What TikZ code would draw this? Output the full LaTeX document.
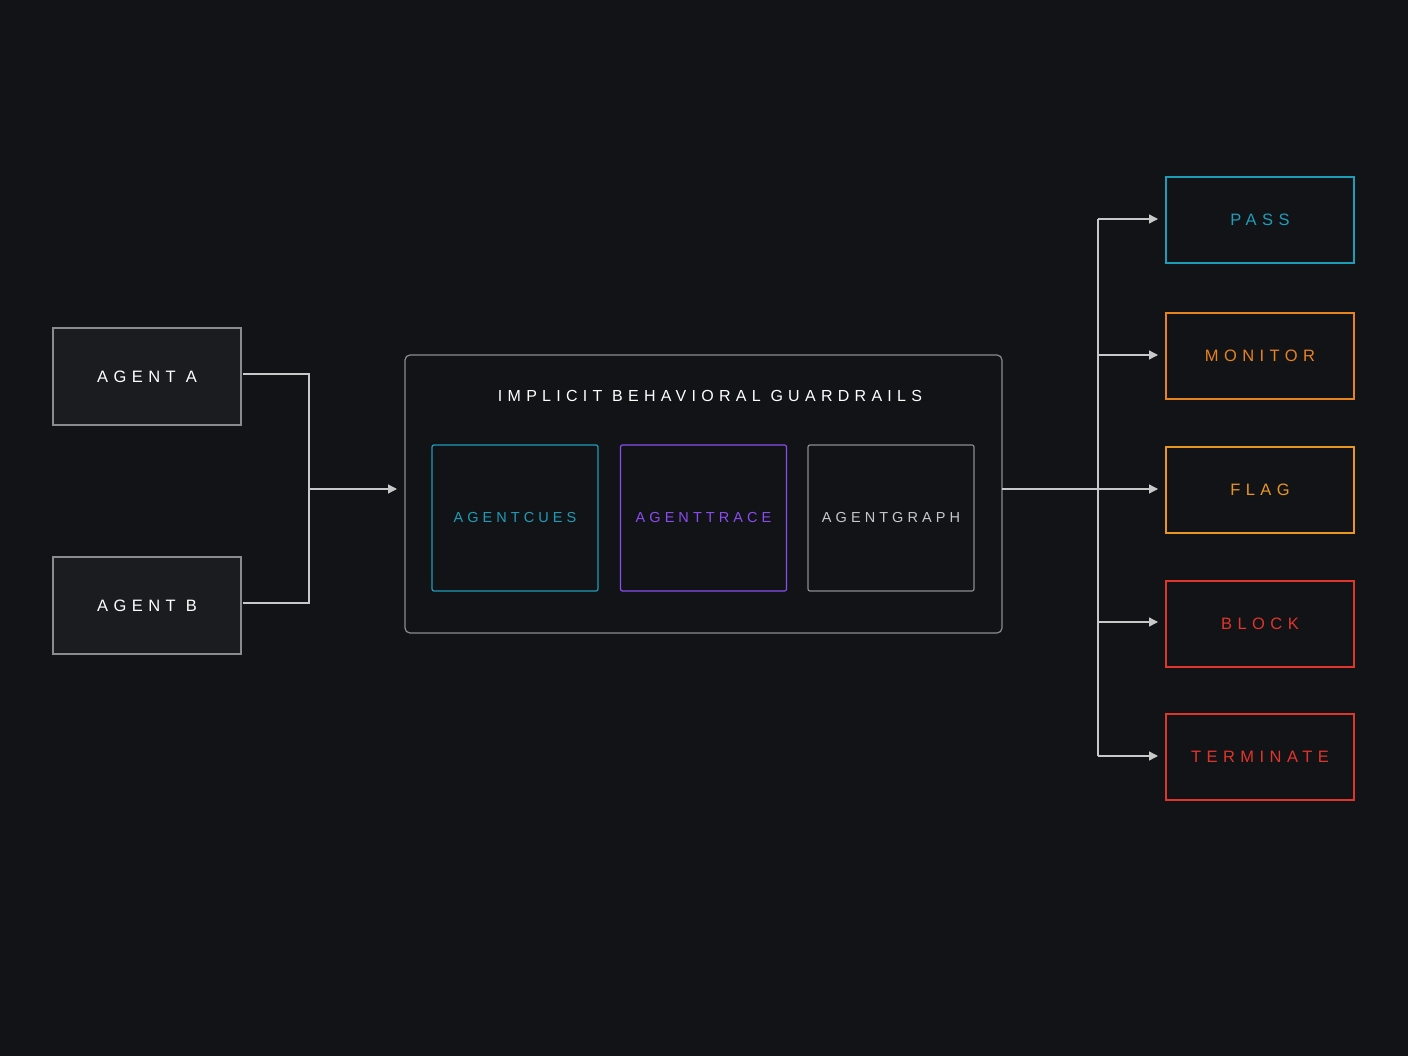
\documentclass[tikz,border=0pt]{standalone}
\usepackage{fontspec}
\setmainfont{Liberation Sans}
\newfontfamily\spaced[LetterSpace=33]{Liberation Sans}
\newfontfamily\spacedi[LetterSpace=28]{Liberation Sans}
\usetikzlibrary{arrows.meta}
\definecolor{bg}{HTML}{111317}
\definecolor{boxfill}{HTML}{1B1C1F}
\definecolor{edge}{HTML}{8A8B8E}
\definecolor{line}{HTML}{C8C8C8}
\definecolor{teal}{HTML}{1E9DB8}
\definecolor{purp}{HTML}{8A4DF0}
\definecolor{orng}{HTML}{E8821E}
\definecolor{ylw}{HTML}{E8961E}
\definecolor{redc}{HTML}{E0352B}
\begin{document}
\begin{tikzpicture}[x=1pt,y=-1pt,
  lbl/.style={font=\spaced\fontsize{16.5}{16.5}\selectfont},
  ilbl/.style={font=\spacedi\fontsize{14.5}{14.5}\selectfont},
  conn/.style={draw=line,line width=1.3pt},
  arr/.style={conn,-{Triangle[length=9pt,width=9pt]}},
  inbox/.style={draw=#1,line width=1.2pt,rounded corners=2pt,minimum width=166pt,minimum height=146pt,ilbl},
  outbox/.style={draw=#1,line width=1.4pt,minimum width=188pt,minimum height=86pt,text=#1,lbl}]
\fill[bg] (0,0) rectangle (1408,1056);
\useasboundingbox (0,0) rectangle (1408,1056);
\node[draw=edge,fill=boxfill,line width=1.2pt,minimum width=188pt,minimum height=97pt,text=white,lbl] (a) at (147,376.5) {AGENT A};
\node[draw=edge,fill=boxfill,line width=1.2pt,minimum width=188pt,minimum height=97pt,text=white,lbl] (b) at (147,605.5) {AGENT B};
\node[draw=edge,rounded corners=5pt,line width=1.2pt,minimum width=597pt,minimum height=278pt] (g) at (703.5,494) {};
\node[text=white,font=\spaced\fontsize{16}{16}\selectfont] (gt) at (710,396) {IMPLICIT BEHAVIORAL GUARDRAILS};
\node[inbox=teal,text=teal] (c1) at (515,518) {AGENTCUES};
\node[inbox=purp,text=purp] (c2) at (703.5,518) {AGENTTRACE};
\node[inbox=edge,text=line] (c3) at (891,518) {AGENTGRAPH};
\coordinate (j) at (309,489);
\draw[conn] (243,374) -| (j);
\draw[conn] (243,603) -| (j);
\draw[arr] (j) -- (397,489);
\node[outbox=teal] (o1) at (1260,220) {PASS};
\node[outbox=orng] (o2) at (1260,356) {MONITOR};
\node[outbox=ylw] (o3) at (1260,490) {FLAG};
\node[outbox=redc] (o4) at (1260,624) {BLOCK};
\node[outbox=redc] (o5) at (1260,757) {TERMINATE};
\coordinate (s) at (1098,489);
\draw[conn] (1002,489) -- (s);
\draw[conn] (1098,219) -- (1098,756);
\foreach \y in {219,355,489,622,756} \draw[arr] (1098,\y) -- (1158,\y);
\end{tikzpicture}
\end{document}
